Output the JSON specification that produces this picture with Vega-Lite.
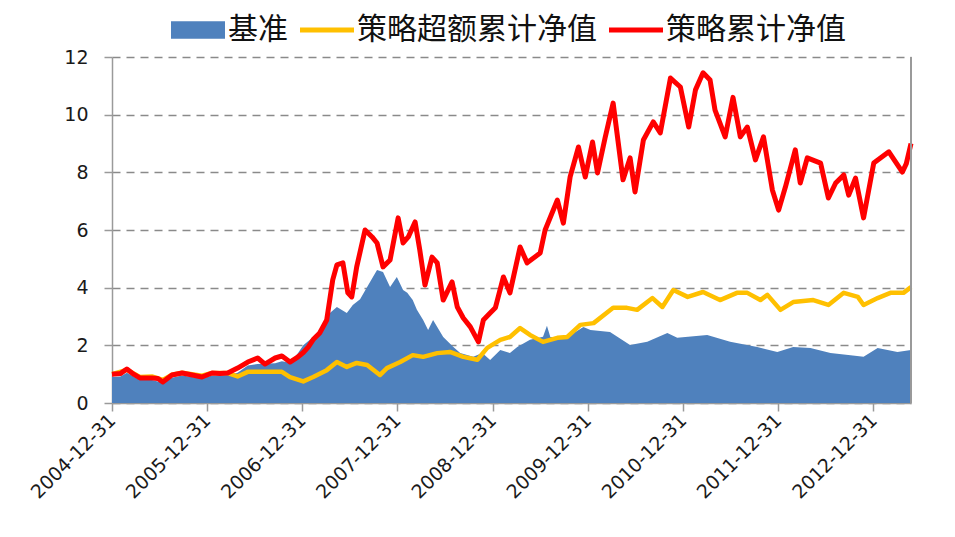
{
  "$schema": "https://vega.github.io/schema/vega-lite/v6.json",
  "autosize": {"type": "none"},
  "padding": {"left": 112, "top": 57, "right": 44, "bottom": 134},
  "width": 799,
  "height": 346,
  "background": "white",
  "config": {
    "view": {"stroke": null},
    "axis": {"labelFont": "DejaVu Sans", "labelColor": "#1a1a1a", "domainColor": "#9a9a9a", "tickColor": "#9a9a9a", "domainWidth": 1.5, "tickWidth": 1.5}
  },
  "data": {"values": [
    {"d":"2004-12-31","s":"策略累计净值","v":1.00},
    {"d":"2005-02-01","s":"策略累计净值","v":1.02},
    {"d":"2005-02-26","s":"策略累计净值","v":1.18},
    {"d":"2005-03-24","s":"策略累计净值","v":1.00},
    {"d":"2005-04-17","s":"策略累计净值","v":0.87},
    {"d":"2005-06-02","s":"策略累计净值","v":0.87},
    {"d":"2005-06-25","s":"策略累计净值","v":0.85},
    {"d":"2005-07-14","s":"策略累计净值","v":0.73},
    {"d":"2005-08-18","s":"策略累计净值","v":0.97},
    {"d":"2005-09-26","s":"策略累计净值","v":1.04},
    {"d":"2005-11-04","s":"策略累计净值","v":0.97},
    {"d":"2005-12-11","s":"策略累计净值","v":0.90},
    {"d":"2006-01-19","s":"策略累计净值","v":1.04},
    {"d":"2006-02-18","s":"策略累计净值","v":1.02},
    {"d":"2006-03-20","s":"策略累计净值","v":1.04},
    {"d":"2006-04-27","s":"策略累计净值","v":1.21},
    {"d":"2006-06-05","s":"策略累计净值","v":1.42},
    {"d":"2006-07-13","s":"策略累计净值","v":1.56},
    {"d":"2006-08-10","s":"策略累计净值","v":1.35},
    {"d":"2006-09-18","s":"策略累计净值","v":1.56},
    {"d":"2006-10-14","s":"策略累计净值","v":1.63},
    {"d":"2006-11-14","s":"策略累计净值","v":1.42},
    {"d":"2006-12-15","s":"策略累计净值","v":1.60},
    {"d":"2007-01-04","s":"策略累计净值","v":1.75},
    {"d":"2007-01-23","s":"策略累计净值","v":1.94},
    {"d":"2007-02-11","s":"策略累计净值","v":2.20},
    {"d":"2007-03-08","s":"策略累计净值","v":2.43},
    {"d":"2007-04-04","s":"策略累计净值","v":2.88},
    {"d":"2007-04-27","s":"策略累计净值","v":4.27},
    {"d":"2007-05-13","s":"策略累计净值","v":4.79},
    {"d":"2007-06-05","s":"策略累计净值","v":4.86},
    {"d":"2007-06-24","s":"策略累计净值","v":3.82},
    {"d":"2007-07-09","s":"策略累计净值","v":3.68},
    {"d":"2007-07-28","s":"策略累计净值","v":4.72},
    {"d":"2007-08-29","s":"策略累计净值","v":6.00},
    {"d":"2007-09-25","s":"策略累计净值","v":5.76},
    {"d":"2007-10-14","s":"策略累计净值","v":5.55},
    {"d":"2007-11-06","s":"策略累计净值","v":4.72},
    {"d":"2007-12-03","s":"策略累计净值","v":4.96},
    {"d":"2008-01-03","s":"策略累计净值","v":6.42},
    {"d":"2008-01-22","s":"策略累计净值","v":5.55},
    {"d":"2008-02-11","s":"策略累计净值","v":5.76},
    {"d":"2008-03-08","s":"策略累计净值","v":6.28},
    {"d":"2008-03-26","s":"策略累计净值","v":5.31},
    {"d":"2008-04-15","s":"策略累计净值","v":4.09},
    {"d":"2008-05-12","s":"策略累计净值","v":5.06},
    {"d":"2008-06-01","s":"策略累计净值","v":4.86},
    {"d":"2008-06-24","s":"策略累计净值","v":3.57},
    {"d":"2008-07-28","s":"策略累计净值","v":4.20},
    {"d":"2008-08-17","s":"策略累计净值","v":3.33},
    {"d":"2008-09-09","s":"策略累计净值","v":2.95},
    {"d":"2008-10-06","s":"策略累计净值","v":2.64},
    {"d":"2008-11-06","s":"策略累计净值","v":2.12},
    {"d":"2008-11-25","s":"策略累计净值","v":2.88},
    {"d":"2008-12-21","s":"策略累计净值","v":3.12},
    {"d":"2009-01-10","s":"策略累计净值","v":3.30},
    {"d":"2009-02-10","s":"策略累计净值","v":4.37},
    {"d":"2009-03-07","s":"策略累计净值","v":3.82},
    {"d":"2009-04-15","s":"策略累计净值","v":5.41},
    {"d":"2009-05-12","s":"策略累计净值","v":4.86},
    {"d":"2009-07-01","s":"策略累计净值","v":5.20},
    {"d":"2009-07-20","s":"策略累计净值","v":6.00},
    {"d":"2009-09-05","s":"策略累计净值","v":7.04},
    {"d":"2009-09-28","s":"策略累计净值","v":6.24},
    {"d":"2009-10-24","s":"策略累计净值","v":7.84},
    {"d":"2009-11-25","s":"策略累计净值","v":8.88},
    {"d":"2009-12-21","s":"策略累计净值","v":7.84},
    {"d":"2010-01-18","s":"策略累计净值","v":9.05},
    {"d":"2010-02-06","s":"策略累计净值","v":7.98},
    {"d":"2010-03-07","s":"策略累计净值","v":9.19},
    {"d":"2010-04-07","s":"策略累计净值","v":10.40},
    {"d":"2010-05-15","s":"策略累计净值","v":7.74},
    {"d":"2010-06-11","s":"策略累计净值","v":8.50},
    {"d":"2010-06-30","s":"策略累计净值","v":7.32},
    {"d":"2010-08-01","s":"策略累计净值","v":9.12},
    {"d":"2010-09-08","s":"策略累计净值","v":9.75},
    {"d":"2010-10-05","s":"策略累计净值","v":9.37},
    {"d":"2010-11-13","s":"策略累计净值","v":11.27},
    {"d":"2010-12-21","s":"策略累计净值","v":10.96},
    {"d":"2011-01-22","s":"策略累计净值","v":9.57},
    {"d":"2011-02-17","s":"策略累计净值","v":10.86},
    {"d":"2011-03-18","s":"策略累计净值","v":11.45},
    {"d":"2011-04-14","s":"策略累计净值","v":11.20},
    {"d":"2011-05-03","s":"策略累计净值","v":10.16},
    {"d":"2011-06-11","s":"策略累计净值","v":9.23},
    {"d":"2011-07-11","s":"策略累计净值","v":10.60},
    {"d":"2011-08-08","s":"策略累计净值","v":9.23},
    {"d":"2011-09-04","s":"策略累计净值","v":9.57},
    {"d":"2011-10-05","s":"策略累计净值","v":8.43},
    {"d":"2011-11-05","s":"策略累计净值","v":9.23},
    {"d":"2011-12-09","s":"策略累计净值","v":7.39},
    {"d":"2012-01-02","s":"策略累计净值","v":6.69},
    {"d":"2012-01-28","s":"策略累计净值","v":7.49},
    {"d":"2012-03-06","s":"策略累计净值","v":8.78},
    {"d":"2012-03-25","s":"策略累计净值","v":7.63},
    {"d":"2012-04-21","s":"策略累计净值","v":8.50},
    {"d":"2012-06-11","s":"策略累计净值","v":8.32},
    {"d":"2012-07-11","s":"策略累计净值","v":7.11},
    {"d":"2012-08-08","s":"策略累计净值","v":7.63},
    {"d":"2012-09-08","s":"策略累计净值","v":7.91},
    {"d":"2012-09-27","s":"策略累计净值","v":7.21},
    {"d":"2012-10-23","s":"策略累计净值","v":7.80},
    {"d":"2012-11-23","s":"策略累计净值","v":6.42},
    {"d":"2013-01-01","s":"策略累计净值","v":8.32},
    {"d":"2013-02-28","s":"策略累计净值","v":8.71},
    {"d":"2013-04-21","s":"策略累计净值","v":8.01},
    {"d":"2013-05-06","s":"策略累计净值","v":8.30},
    {"d":"2013-05-24","s":"策略累计净值","v":9.00},

    {"d":"2004-12-31","s":"策略超额累计净值","v":1.00},
    {"d":"2005-02-26","s":"策略超额累计净值","v":1.15},
    {"d":"2005-04-17","s":"策略超额累计净值","v":0.90},
    {"d":"2005-06-02","s":"策略超额累计净值","v":0.92},
    {"d":"2005-07-14","s":"策略超额累计净值","v":0.80},
    {"d":"2005-08-18","s":"策略超额累计净值","v":0.98},
    {"d":"2005-09-26","s":"策略超额累计净值","v":1.05},
    {"d":"2005-12-11","s":"策略超额累计净值","v":0.95},
    {"d":"2006-01-19","s":"策略超额累计净值","v":1.04},
    {"d":"2006-03-20","s":"策略超额累计净值","v":1.04},
    {"d":"2006-04-27","s":"策略超额累计净值","v":0.92},
    {"d":"2006-06-05","s":"策略超额累计净值","v":1.08},
    {"d":"2006-08-10","s":"策略超额累计净值","v":1.08},
    {"d":"2006-10-14","s":"策略超额累计净值","v":1.08},
    {"d":"2006-11-14","s":"策略超额累计净值","v":0.90},
    {"d":"2007-01-04","s":"策略超额累计净值","v":0.75},
    {"d":"2007-02-11","s":"策略超额累计净值","v":0.90},
    {"d":"2007-04-04","s":"策略超额累计净值","v":1.14},
    {"d":"2007-05-13","s":"策略超额累计净值","v":1.42},
    {"d":"2007-06-20","s":"策略超额累计净值","v":1.25},
    {"d":"2007-07-28","s":"策略超额累计净值","v":1.39},
    {"d":"2007-09-06","s":"策略超额累计净值","v":1.32},
    {"d":"2007-10-25","s":"策略超额累计净值","v":0.97},
    {"d":"2007-11-21","s":"策略超额累计净值","v":1.21},
    {"d":"2008-01-11","s":"策略超额累计净值","v":1.42},
    {"d":"2008-02-28","s":"策略超额累计净值","v":1.66},
    {"d":"2008-04-08","s":"策略超额累计净值","v":1.60},
    {"d":"2008-06-01","s":"策略超额累计净值","v":1.73},
    {"d":"2008-07-20","s":"策略超额累计净值","v":1.77},
    {"d":"2008-09-09","s":"策略超额累计净值","v":1.60},
    {"d":"2008-11-02","s":"策略超额累计净值","v":1.50},
    {"d":"2008-12-10","s":"策略超额累计净值","v":1.91},
    {"d":"2009-01-29","s":"策略超额累计净值","v":2.19},
    {"d":"2009-03-07","s":"策略超额累计净值","v":2.29},
    {"d":"2009-04-15","s":"策略超额累计净值","v":2.60},
    {"d":"2009-05-23","s":"策略超额累计净值","v":2.36},
    {"d":"2009-07-12","s":"策略超额累计净值","v":2.12},
    {"d":"2009-09-05","s":"策略超额累计净值","v":2.26},
    {"d":"2009-10-13","s":"策略超额累计净值","v":2.29},
    {"d":"2009-12-02","s":"策略超额累计净值","v":2.71},
    {"d":"2010-01-22","s":"策略超额累计净值","v":2.77},
    {"d":"2010-04-07","s":"策略超额累计净值","v":3.30},
    {"d":"2010-05-30","s":"策略超额累计净值","v":3.30},
    {"d":"2010-07-08","s":"策略超额累计净值","v":3.23},
    {"d":"2010-09-05","s":"策略超额累计净值","v":3.64},
    {"d":"2010-10-13","s":"策略超额累计净值","v":3.33},
    {"d":"2010-11-24","s":"策略超额累计净值","v":3.92},
    {"d":"2011-01-18","s":"策略超额累计净值","v":3.68},
    {"d":"2011-03-18","s":"策略超额累计净值","v":3.85},
    {"d":"2011-05-22","s":"策略超额累计净值","v":3.57},
    {"d":"2011-07-26","s":"策略超额累计净值","v":3.82},
    {"d":"2011-09-04","s":"策略超额累计净值","v":3.82},
    {"d":"2011-10-24","s":"策略超额累计净值","v":3.57},
    {"d":"2011-11-20","s":"策略超额累计净值","v":3.75},
    {"d":"2012-01-09","s":"策略超额累计净值","v":3.23},
    {"d":"2012-02-27","s":"策略超额累计净值","v":3.50},
    {"d":"2012-05-14","s":"策略超额累计净值","v":3.57},
    {"d":"2012-07-11","s":"策略超额累计净值","v":3.40},
    {"d":"2012-09-08","s":"策略超额累计净值","v":3.82},
    {"d":"2012-11-01","s":"策略超额累计净值","v":3.68},
    {"d":"2012-11-23","s":"策略超额累计净值","v":3.40},
    {"d":"2013-01-16","s":"策略超额累计净值","v":3.64},
    {"d":"2013-03-06","s":"策略超额累计净值","v":3.82},
    {"d":"2013-04-25","s":"策略超额累计净值","v":3.82},
    {"d":"2013-05-24","s":"策略超额累计净值","v":4.02},

    {"d":"2004-12-31","s":"基准","v":0.90},
    {"d":"2005-02-01","s":"基准","v":0.92},
    {"d":"2005-02-26","s":"基准","v":1.05},
    {"d":"2005-04-17","s":"基准","v":0.80},
    {"d":"2005-06-02","s":"基准","v":0.80},
    {"d":"2005-07-14","s":"基准","v":0.70},
    {"d":"2005-08-18","s":"基准","v":0.88},
    {"d":"2005-09-26","s":"基准","v":0.95},
    {"d":"2005-12-11","s":"基准","v":0.85},
    {"d":"2006-01-19","s":"基准","v":0.95},
    {"d":"2006-03-20","s":"基准","v":0.97},
    {"d":"2006-04-27","s":"基准","v":1.05},
    {"d":"2006-06-05","s":"基准","v":1.30},
    {"d":"2006-07-13","s":"基准","v":1.35},
    {"d":"2006-09-18","s":"基准","v":1.38},
    {"d":"2006-10-14","s":"基准","v":1.45},
    {"d":"2006-11-14","s":"基准","v":1.40},
    {"d":"2006-12-15","s":"基准","v":1.73},
    {"d":"2007-01-04","s":"基准","v":2.00},
    {"d":"2007-02-11","s":"基准","v":2.29},
    {"d":"2007-03-08","s":"基准","v":2.50},
    {"d":"2007-04-16","s":"基准","v":3.12},
    {"d":"2007-05-13","s":"基准","v":3.33},
    {"d":"2007-06-20","s":"基准","v":3.12},
    {"d":"2007-07-13","s":"基准","v":3.40},
    {"d":"2007-08-10","s":"基准","v":3.60},
    {"d":"2007-09-06","s":"基准","v":4.02},
    {"d":"2007-10-14","s":"基准","v":4.61},
    {"d":"2007-11-06","s":"基准","v":4.54},
    {"d":"2007-12-03","s":"基准","v":4.02},
    {"d":"2007-12-29","s":"基准","v":4.37},
    {"d":"2008-01-22","s":"基准","v":3.92},
    {"d":"2008-02-07","s":"基准","v":3.82},
    {"d":"2008-02-28","s":"基准","v":3.57},
    {"d":"2008-03-15","s":"基准","v":3.23},
    {"d":"2008-04-08","s":"基准","v":2.88},
    {"d":"2008-04-27","s":"基准","v":2.53},
    {"d":"2008-05-16","s":"基准","v":2.88},
    {"d":"2008-06-24","s":"基准","v":2.29},
    {"d":"2008-08-02","s":"基准","v":1.94},
    {"d":"2008-08-28","s":"基准","v":1.73},
    {"d":"2008-10-17","s":"基准","v":1.60},
    {"d":"2008-11-21","s":"基准","v":1.73},
    {"d":"2008-12-21","s":"基准","v":1.49},
    {"d":"2009-01-29","s":"基准","v":1.84},
    {"d":"2009-03-07","s":"基准","v":1.73},
    {"d":"2009-04-04","s":"基准","v":1.94},
    {"d":"2009-05-23","s":"基准","v":2.19},
    {"d":"2009-07-12","s":"基准","v":2.30},
    {"d":"2009-07-27","s":"基准","v":2.68},
    {"d":"2009-08-09","s":"基准","v":2.29},
    {"d":"2009-10-13","s":"基准","v":2.29},
    {"d":"2009-12-14","s":"基准","v":2.64},
    {"d":"2010-01-10","s":"基准","v":2.53},
    {"d":"2010-03-26","s":"基准","v":2.46},
    {"d":"2010-06-11","s":"基准","v":2.01},
    {"d":"2010-08-16","s":"基准","v":2.12},
    {"d":"2010-11-01","s":"基准","v":2.43},
    {"d":"2010-12-09","s":"基准","v":2.26},
    {"d":"2011-04-03","s":"基准","v":2.36},
    {"d":"2011-06-30","s":"基准","v":2.12},
    {"d":"2011-10-12","s":"基准","v":1.94},
    {"d":"2011-12-28","s":"基准","v":1.77},
    {"d":"2012-02-27","s":"基准","v":1.94},
    {"d":"2012-05-03","s":"基准","v":1.91},
    {"d":"2012-07-19","s":"基准","v":1.73},
    {"d":"2012-10-04","s":"基准","v":1.66},
    {"d":"2012-11-23","s":"基准","v":1.60},
    {"d":"2013-01-16","s":"基准","v":1.91},
    {"d":"2013-04-02","s":"基准","v":1.77},
    {"d":"2013-05-24","s":"基准","v":1.84}
  ]},
  "layer": [
    {
      "encoding": {
        "x": {
          "field": "d", "type": "temporal", "title": null,
          "scale": {"type": "utc", "domain": [{"year": 2004, "month": 12, "date": 31, "utc": true}, {"year": 2013, "month": 5, "date": 24, "utc": true}]},
          "axis": {
            "values": [
              {"year": 2004, "month": 12, "date": 31, "utc": true},
              {"year": 2005, "month": 12, "date": 31, "utc": true},
              {"year": 2006, "month": 12, "date": 31, "utc": true},
              {"year": 2007, "month": 12, "date": 31, "utc": true},
              {"year": 2008, "month": 12, "date": 31, "utc": true},
              {"year": 2009, "month": 12, "date": 31, "utc": true},
              {"year": 2010, "month": 12, "date": 31, "utc": true},
              {"year": 2011, "month": 12, "date": 31, "utc": true},
              {"year": 2012, "month": 12, "date": 31, "utc": true}
            ],
            "labelExpr": "utcFormat(datum.value, '%Y-%m-%d')",
            "labelAngle": -45, "labelAlign": "right", "labelBaseline": "middle",
            "labelFontSize": 19, "labelPadding": 6, "tickSize": 8, "grid": false,
            "labelOverlap": false, "labelBound": false, "labelFlush": false
          }
        },
        "y": {
          "field": "v", "type": "quantitative", "title": null,
          "scale": {"domain": [0, 12], "nice": false, "zero": true},
          "axis": {
            "values": [0, 2, 4, 6, 8, 10, 12],
            "labelFontSize": 19, "labelPadding": 16, "tickSize": 8,
            "grid": true, "gridDash": [8, 6], "gridColor": "#8a8a8a", "gridWidth": 1.4
          }
        },
        "color": {
          "field": "s", "type": "nominal",
          "scale": {"domain": ["基准", "策略超额累计净值", "策略累计净值"], "range": ["#4F81BD", "#FFC000", "#FF0000"]},
          "legend": {
            "title": null, "orient": "none", "direction": "horizontal",
            "legendX": 59, "legendY": -54, "padding": 0,
            "labelFont": "Noto Sans CJK SC", "labelFontSize": 30, "labelColor": "#111",
            "labelOffset": 3, "columnPadding": 12, "symbolSize": 2916,
            "labelLimit": 400,
            "encode": {
              "symbols": {
                "update": {
                  "shape": {"signal": "datum.value === '基准' ? 'M-1,-0.32H1V0.32H-1Z' : 'M-1,-0.09H1V0.09H-1Z'"},
                  "fill": {"signal": "datum.value === '基准' ? '#4F81BD' : (datum.value === '策略超额累计净值' ? '#FFC000' : '#FF0000')"},
                  "stroke": {"value": "transparent"},
                  "strokeWidth": {"value": 0},
                  "opacity": {"value": 1}
                }
              }
            }
          }
        }
      },
      "layer": [
        {
          "transform": [{"filter": "datum.s === '基准'"}],
          "mark": {"type": "area", "opacity": 1}
        },
        {
          "transform": [{"filter": "datum.s === '策略超额累计净值'"}],
          "mark": {"type": "line", "strokeWidth": 4.5, "strokeJoin": "round"}
        },
        {
          "transform": [{"filter": "datum.s === '策略累计净值'"}],
          "mark": {"type": "line", "strokeWidth": 5, "strokeJoin": "round"}
        }
      ]
    },
    {
      "mark": {"type": "rule", "color": "#9a9a9a", "strokeWidth": 1.5},
      "encoding": {
        "x": {"datum": {"year": 2013, "month": 5, "date": 24, "utc": true}, "type": "temporal"}
      }
    }
  ]
}
